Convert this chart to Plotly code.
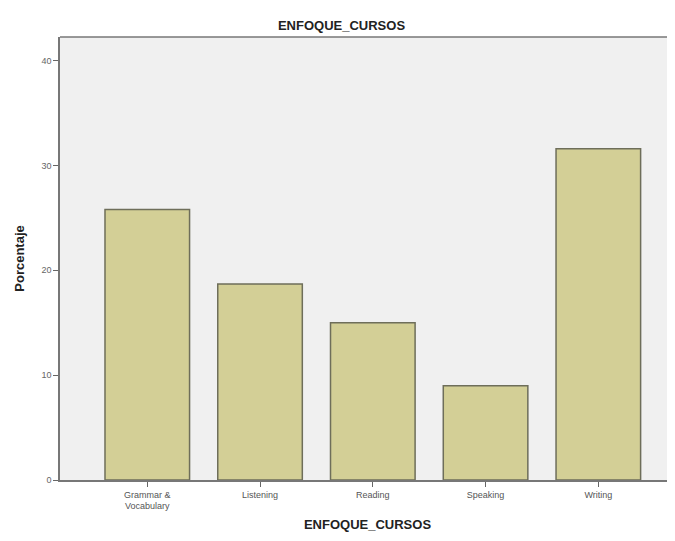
import plotly.graph_objects as go

categories = ["Grammar &<br>Vocabulary", "Listening", "Reading", "Speaking", "Writing"]
porcentaje = [25.8, 18.7, 15.0, 9.0, 31.6]
y_ticks = [0, 10, 20, 30, 40]

fig = go.Figure()
fig.add_trace(go.Bar(
    x=list(range(len(categories))),
    y=porcentaje,
    width=0.75,
    marker=dict(color="#d3cf96", line=dict(color="#6e6e5a", width=1.5)),
    hoverinfo="y",
))

# page body has an 8px margin, so figure is sized to fit inside the window
fig.update_layout(
    width=667, height=533,
    margin=dict(l=52, r=0, t=29, b=61),
    paper_bgcolor="white",
    plot_bgcolor="#f0f0f0",
    showlegend=False,
    font=dict(family="Liberation Sans, Arial, sans-serif", color="#333333"),
    title=dict(text="<b>ENFOQUE_CURSOS</b>", x=0.5, xanchor="center", y=0.968, yanchor="middle",
               font=dict(size=13, color="#222222")),
)

fig.update_xaxes(
    range=[-0.774, 4.68],
    tickmode="array",
    tickvals=list(range(len(categories))),
    ticktext=categories,
    ticks="outside", ticklen=5, tickcolor="#666666",
    tickfont=dict(size=9, color="#555555"),
    showline=True, linecolor="#777777", linewidth=1.5,
    showgrid=False, zeroline=False,
    title=dict(text="<b>ENFOQUE_CURSOS</b>", font=dict(size=13, color="#222222"), standoff=10),
)
fig.update_yaxes(
    range=[0, 42.25],
    tickmode="array",
    tickvals=y_ticks,
    ticks="outside", ticklen=5, tickcolor="#666666",
    tickfont=dict(size=9, color="#666666"),
    showline=True, linecolor="#777777", linewidth=1.5, mirror=False,
    showgrid=False, zeroline=False,
    title=dict(text="<b>Porcentaje</b>", font=dict(size=13, color="#222222"), standoff=14),
)

# top frame line
fig.add_shape(type="line", xref="paper", yref="paper", x0=0, x1=1, y0=1, y1=1,
              line=dict(color="#777777", width=1.5))

fig.write_html("out.html")
